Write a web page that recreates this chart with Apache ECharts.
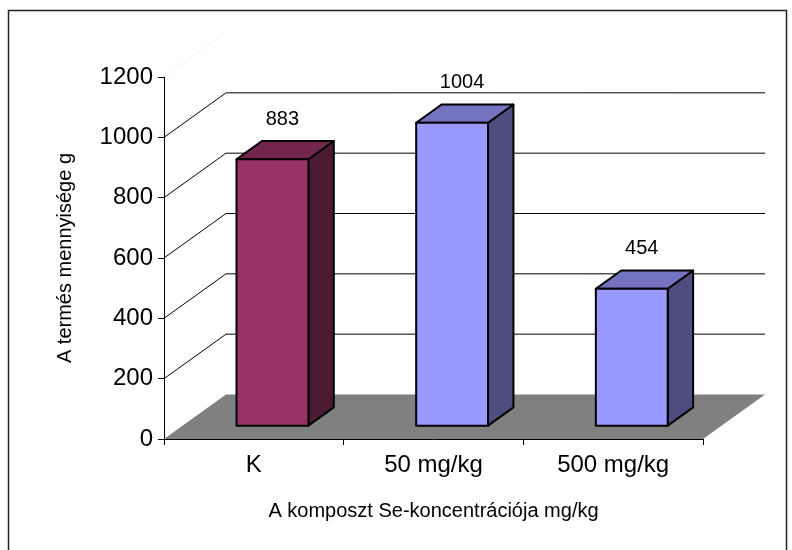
<!DOCTYPE html>
<html><head><meta charset="utf-8">
<script src="https://cdn.jsdelivr.net/npm/echarts@6/dist/echarts.min.js"></script>
<style>html,body{margin:0;padding:0;background:#fff}#c{width:792px;height:550px}</style>
</head><body><div id="c"></div>
<script>
// ---- data ----
const categories = ['K', '50 mg/kg', '500 mg/kg'];
const yields = [883, 1004, 454];
const yTicks = [0, 200, 400, 600, 800, 1000, 1200];
const xTitle = 'A komposzt Se-koncentrációja mg/kg';
const yTitle = 'A termés mennyisége g';

// ---- style ----
const FONT = '"Liberation Sans", Arial, sans-serif';
const DEPTH_X = 62, DEPTH_Y = -44.5;
const BAR_FRONT = 0.3, BAR_DEPTH = 0.41, BAR_WIDTH = 0.4;
const frontColors = ['#993366', '#9999FF', '#9999FF'];
const sideColors = ['#4D1A33', '#4D4D80', '#4D4D80'];
const topColors = ['#73264D', '#7373BF', '#7373BF'];
const yMax = yTicks[yTicks.length - 1];

const chart = echarts.init(document.getElementById('c'), null, {renderer: 'canvas'});

function floorItem(params, api) {
  const cs = params.coordSys;
  const x0 = cs.x, x1 = cs.x + cs.width, y0 = api.coord([0, 0])[1];
  return {
    type: 'polygon', silent: true,
    shape: {points: [[x0, y0], [x1, y0], [x1 + DEPTH_X, y0 + DEPTH_Y], [x0 + DEPTH_X, y0 + DEPTH_Y]]},
    style: {fill: '#808080'}
  };
}

function wallItem(params, api) {
  const v = api.value(1);
  const cs = params.coordSys;
  const x0 = cs.x, x1 = cs.x + cs.width;
  const y = api.coord([0, v])[1];
  const children = [];
  if (v > 0) {
    children.push({type: 'line', silent: true,
      shape: {x1: x0, y1: y, x2: x0 + DEPTH_X, y2: y + DEPTH_Y},
      style: {stroke: v === yMax ? '#f4f4f4' : '#000', lineWidth: 1}});
  }
  if (v > 0 && v !== yMax) {
    children.push({type: 'line', silent: true,
      shape: {x1: x0 + DEPTH_X, y1: y + DEPTH_Y, x2: x1 + DEPTH_X, y2: y + DEPTH_Y},
      style: {stroke: '#000', lineWidth: 1}});
  }
  return {type: 'group', children};
}

function barItem(params, api) {
  const i = params.dataIndex;
  const v = api.value(1);
  const band = api.size([1, 0])[0];
  const c = api.coord([api.value(0), v]);
  const base = api.coord([api.value(0), 0]);
  const fx = BAR_FRONT * DEPTH_X, fy = BAR_FRONT * DEPTH_Y;
  const dx = BAR_DEPTH * DEPTH_X, dy = BAR_DEPTH * DEPTH_Y;
  const w = band * BAR_WIDTH;
  const L = c[0] - w / 2 + fx, R = c[0] + w / 2 + fx, T = c[1] + fy, B = base[1] + fy;
  const st = {stroke: '#000', lineWidth: 2, lineJoin: 'round'};
  return {
    type: 'group',
    children: [
      {type: 'polygon', shape: {points: [[R, T], [R + dx, T + dy], [R + dx, B + dy], [R, B]]},
        style: Object.assign({fill: sideColors[i]}, st)},
      {type: 'polygon', shape: {points: [[L, T], [L + dx, T + dy], [R + dx, T + dy], [R, T]]},
        style: Object.assign({fill: topColors[i]}, st)},
      {type: 'rect', shape: {x: L, y: T, width: R - L, height: B - T},
        style: Object.assign({fill: frontColors[i]}, st)},
      {type: 'text', style: {x: (L + R) / 2 + 10, y: T - 40, text: String(v), fill: '#000',
        font: '20px ' + FONT, textAlign: 'center', textVerticalAlign: 'middle'}}
    ]
  };
}

chart.setOption({
  animation: false,
  backgroundColor: '#fff',
  grid: {left: 164, top: 77, width: 539, height: 362, containLabel: false, outerBoundsMode: 'none'},
  xAxis: {
    type: 'category', data: categories,
    axisLine: {show: true, lineStyle: {color: '#000', width: 1}},
    axisTick: {show: true, length: 6, lineStyle: {color: '#000'}},
    axisLabel: {fontSize: 24, color: '#000', fontFamily: FONT, margin: 14},
    splitLine: {show: false},
    name: xTitle, nameLocation: 'middle', nameGap: 62,
    nameTextStyle: {fontSize: 20, color: '#000', fontFamily: FONT}
  },
  yAxis: {
    type: 'value', min: 0, max: yMax, interval: 200,
    axisLine: {show: true, lineStyle: {color: '#000', width: 1}},
    axisTick: {show: true, length: 6, lineStyle: {color: '#000'}},
    axisLabel: {fontSize: 24, color: '#000', fontFamily: FONT, margin: 11, formatter: v => String(v)},
    splitLine: {show: false},
    name: yTitle, nameLocation: 'middle', nameGap: 89,
    nameTextStyle: {fontSize: 20, color: '#000', fontFamily: FONT}
  },
  series: [
    {type: 'custom', name: 'floor', renderItem: floorItem, data: [[0, 0]], encode: {x: 0, y: 1}, z: 1, silent: true},
    {type: 'custom', name: 'walls', renderItem: wallItem, data: yTicks.map(v => [0, v]), encode: {x: 0, y: 1}, z: 2, silent: true},
    {type: 'custom', name: 'Termés', renderItem: barItem, data: categories.map((c, i) => [i, yields[i]]), encode: {x: 0, y: 1}, z: 3}
  ],
  graphic: [{type: 'rect', silent: true, shape: {x: 8.5, y: 10.5, width: 778, height: 560},
    style: {fill: 'none', stroke: '#222', lineWidth: 1.5}, z: 100}]
});
</script>
</body></html>
